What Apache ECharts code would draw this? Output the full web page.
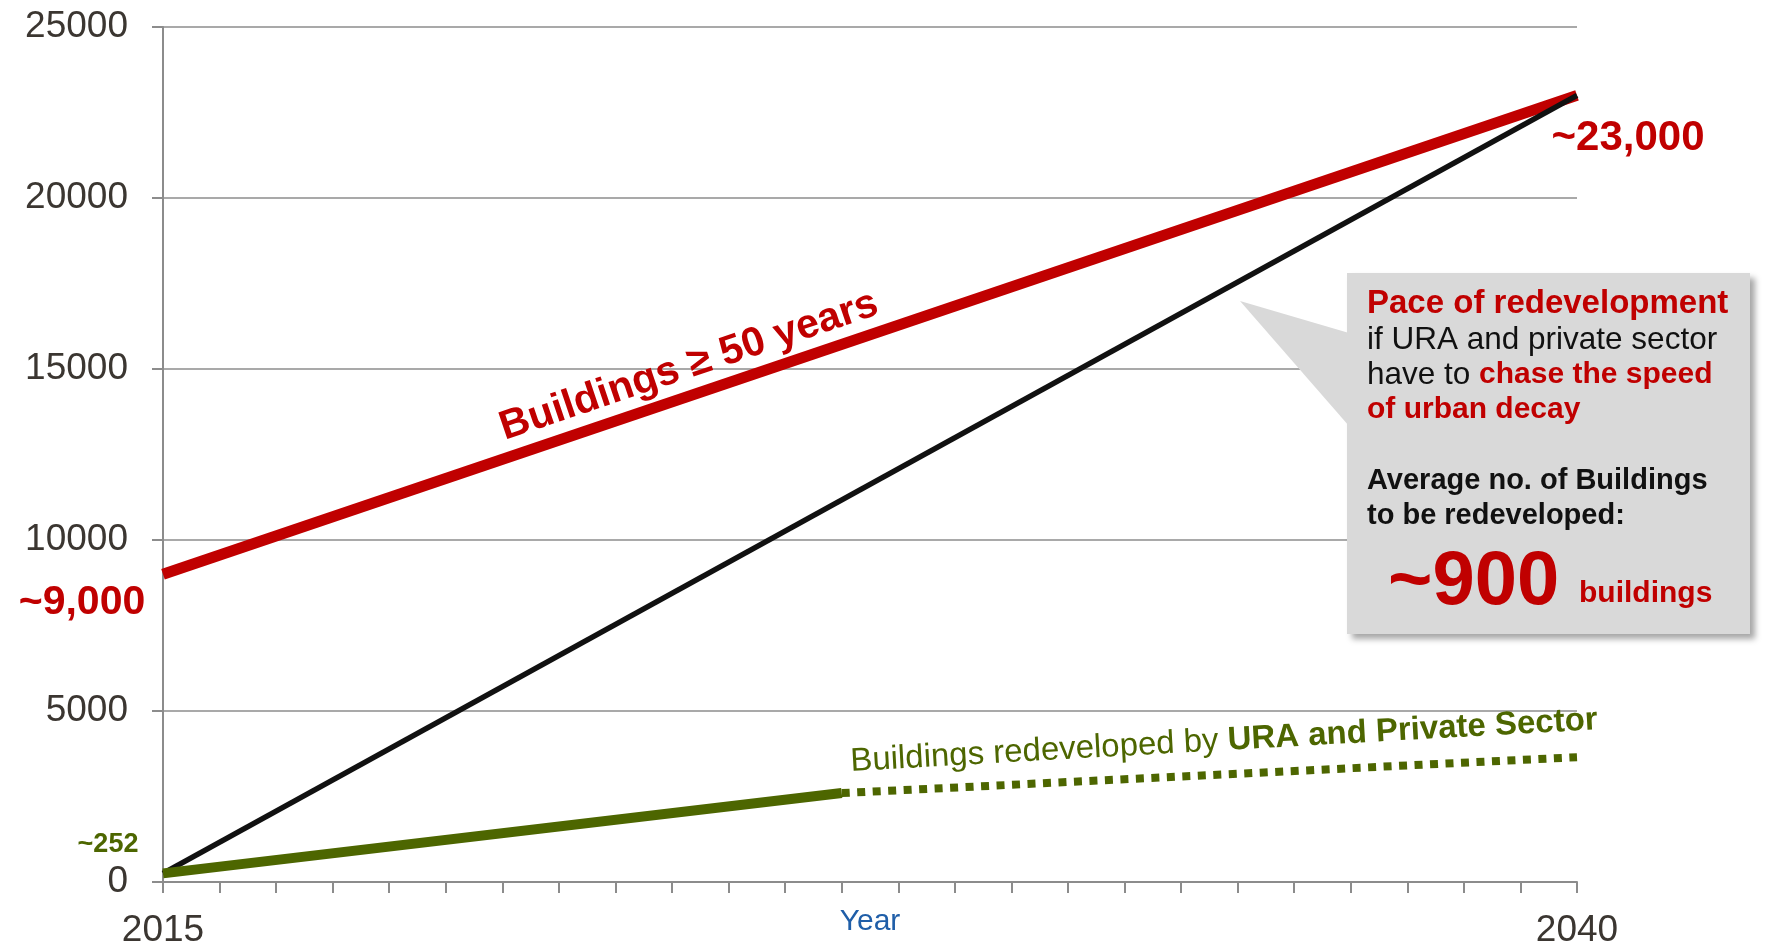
<!DOCTYPE html>
<html>
<head>
<meta charset="utf-8">
<title>Buildings ageing vs redevelopment</title>
<script src="https://cdn.jsdelivr.net/npm/echarts@6/dist/echarts.min.js"></script>
<style>
  html, body { margin: 0; padding: 0; background: #fff; }
  #chart { width: 1767px; height: 951px; }
</style>
</head>
<body>
<div id="chart"></div>
<script>
// data
const years = [2015, 2040];
const oldBuildings = [9000, 23000];        // Buildings >= 50 years
const requiredPace = [252, 23000];         // pace needed to keep up
const actualYears = [2015, 2027];
const actualRedev = [252, 2600];           // redeveloped by URA + private (solid)
const projYears = [2027, 2040];
const projRedev = [2600, 3650];            // projection (dotted)
const yTicks = [0, 5000, 10000, 15000, 20000, 25000];
const xLabelYears = [2015, 2040];

const FONT = 'Liberation Sans, Arial, sans-serif';
const RED = '#c00000';
const GREEN = '#4d6600';
const GREY = '#8c8c8c';
const TXT = '#3b3631';

function pairs(xs, ys) {
  return xs.map((x, i) => [x, ys[i]]);
}

const myChart = echarts.init(document.getElementById('chart'));

myChart.setOption({
  animation: false,
  grid: { left: 163, right: 190, top: 27, bottom: 69, outerBoundsMode: 'none', containLabel: false },
  xAxis: {
    type: 'value',
    min: 2015,
    max: 2040,
    interval: 1,
    name: 'Year',
    nameLocation: 'middle',
    nameGap: 25,
    nameMoveOverlap: false,
    nameTextStyle: { color: '#1f5ea8', fontSize: 30, fontFamily: FONT, verticalAlign: 'top' },
    axisLine: { lineStyle: { color: GREY, width: 2 } },
    axisTick: { length: 11, lineStyle: { color: GREY, width: 2 } },
    axisLabel: {
      margin: 30,
      fontSize: 37,
      color: TXT,
      fontFamily: FONT,
      formatter: v => xLabelYears.includes(v) ? String(v) : ''
    },
    splitLine: { show: false }
  },
  yAxis: {
    type: 'value',
    min: yTicks[0],
    max: yTicks[yTicks.length - 1],
    interval: 5000,
    axisLine: { show: true, lineStyle: { color: GREY, width: 2 } },
    axisTick: { show: true, length: 11, lineStyle: { color: GREY, width: 2 } },
    axisLabel: {
      margin: 35,
      fontSize: 37,
      color: TXT,
      fontFamily: FONT,
      formatter: v => String(v)
    },
    splitLine: { lineStyle: { color: GREY, width: 1.5 } }
  },
  series: [
    {
      name: 'Buildings >= 50 years',
      type: 'line',
      data: pairs(years, oldBuildings),
      showSymbol: false,
      lineStyle: { color: RED, width: 11, cap: 'butt' },
      z: 2
    },
    {
      name: 'Pace required',
      type: 'line',
      data: pairs(years, requiredPace),
      showSymbol: false,
      lineStyle: { color: '#111111', width: 5.5 },
      z: 3
    },
    {
      name: 'Redeveloped',
      type: 'line',
      data: pairs(actualYears, actualRedev),
      showSymbol: false,
      lineStyle: { color: GREEN, width: 10, cap: 'butt' },
      z: 4
    },
    {
      name: 'Redeveloped (projected)',
      type: 'line',
      data: pairs(projYears, projRedev),
      showSymbol: false,
      lineStyle: { color: GREEN, width: 8, type: [8, 7.5], cap: 'butt' },
      z: 4
    }
  ],
  graphic: [
    // value callouts
    { type: 'text', x: 82, y: 603, z: 50,
      style: { text: '~9,000', fill: RED, font: 'bold 41px ' + FONT, align: 'center', verticalAlign: 'middle' } },
    { type: 'text', x: 1628, y: 138, z: 50,
      style: { text: '~23,000', fill: RED, font: 'bold 42px ' + FONT, align: 'center', verticalAlign: 'middle' } },
    { type: 'text', x: 108, y: 845, z: 50,
      style: { text: '~252', fill: GREEN, font: 'bold 27px ' + FONT, align: 'center', verticalAlign: 'middle' } },
    // series names along the lines
    { type: 'text', x: 689, y: 366, rotation: 18.6 * Math.PI / 180, z: 50,
      style: { text: 'Buildings \u2265 50 years', fill: RED, font: 'bold 41px ' + FONT, align: 'center', verticalAlign: 'middle' } },
    { type: 'text', x: 1224, y: 741, rotation: 3.2 * Math.PI / 180, z: 50,
      style: {
        text: '{n|Buildings redeveloped by }{b|URA and Private Sector}',
        align: 'center', verticalAlign: 'middle',
        rich: {
          n: { fill: GREEN, font: '33px ' + FONT },
          b: { fill: GREEN, font: 'bold 33px ' + FONT }
        }
      } },
    // grey callout box
    { type: 'rect', z: 60,
      shape: { x: 1347, y: 273, width: 403, height: 361 },
      style: { fill: '#d9d9d9', shadowBlur: 6, shadowOffsetX: 5, shadowOffsetY: 5, shadowColor: 'rgba(0,0,0,0.35)' } },
    { type: 'polygon', z: 61,
      shape: { points: [[1240, 301], [1349, 333], [1349, 426]] },
      style: { fill: '#d9d9d9' } },
    { type: 'text', x: 1367, y: 304, z: 62,
      style: { text: 'Pace of redevelopment', fill: RED, font: 'bold 33px ' + FONT, verticalAlign: 'middle' } },
    { type: 'text', x: 1367, y: 340, z: 62,
      style: { text: 'if URA and private sector', fill: '#111', font: '31.5px ' + FONT, verticalAlign: 'middle' } },
    { type: 'text', x: 1367, y: 375, z: 62,
      style: {
        text: '{n|have to }{b|chase the speed}', verticalAlign: 'middle',
        rich: {
          n: { fill: '#111', font: '31.5px ' + FONT },
          b: { fill: RED, font: 'bold 30px ' + FONT }
        }
      } },
    { type: 'text', x: 1367, y: 410, z: 62,
      style: { text: 'of urban decay', fill: RED, font: 'bold 30px ' + FONT, verticalAlign: 'middle' } },
    { type: 'text', x: 1367, y: 481, z: 62,
      style: { text: 'Average no. of Buildings', fill: '#111', font: 'bold 29px ' + FONT, verticalAlign: 'middle' } },
    { type: 'text', x: 1367, y: 516, z: 62,
      style: { text: 'to be redeveloped:', fill: '#111', font: 'bold 29px ' + FONT, verticalAlign: 'middle' } },
    { type: 'text', x: 1388, y: 583, z: 62,
      style: { text: '~900', fill: RED, font: 'bold 76px ' + FONT, verticalAlign: 'middle' } },
    { type: 'text', x: 1579, y: 594, z: 62,
      style: { text: 'buildings', fill: RED, font: 'bold 30px ' + FONT, verticalAlign: 'middle' } }
  ]
});

window.onresize = function () {
  myChart.resize();
};
</script>
</body>
</html>
